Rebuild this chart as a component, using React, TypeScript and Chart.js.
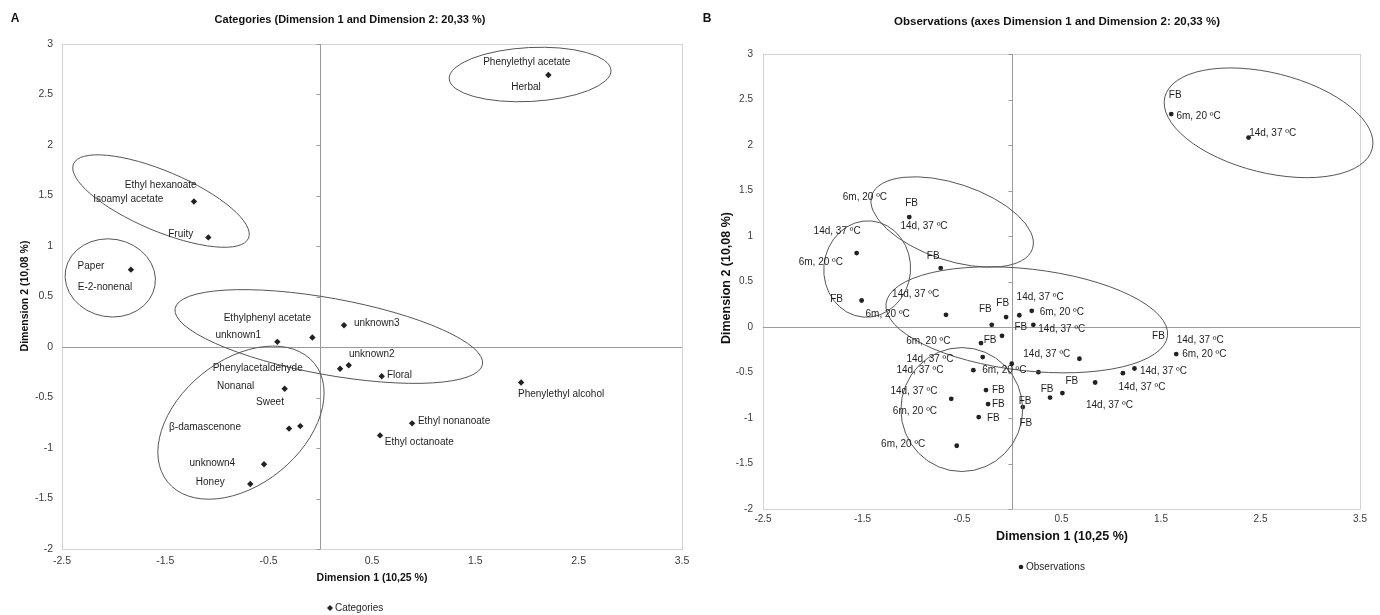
import React, { useEffect, useRef } from "react";
import { Chart, registerables } from "chart.js";

Chart.register(...registerables);

const FONT = '"Liberation Sans", Arial, sans-serif';

// ---------- Panel A : categories ----------
const xTickValues = [-2.5, -1.5, -0.5, 0.5, 1.5, 2.5, 3.5];
const yTickValues = [-2, -1.5, -1, -0.5, 0, 0.5, 1, 1.5, 2, 2.5, 3];

const categoryX = [2.207, -1.223, -1.084, -1.833, -0.416, -0.077, 0.229, 0.191, 0.275, 0.594, -0.345, -0.303, -0.194, -0.545, -0.678, 0.888, 0.578, 1.943];
const categoryY = [2.693, 1.441, 1.085, 0.766, 0.051, 0.094, 0.215, -0.215, -0.18, -0.289, -0.413, -0.808, -0.783, -1.161, -1.356, -0.756, -0.875, -0.351];

const categoryLabelText = [
  "Phenylethyl acetate", "Herbal", "Ethyl hexanoate", "Isoamyl acetate", "Fruity", "Paper", "E-2-nonenal",
  "Ethylphenyl acetate", "unknown1", "unknown3", "unknown2", "Floral", "Phenylacetaldehyde", "Nonanal", "Sweet",
  "β-damascenone", "unknown4", "Honey", "Ethyl nonanoate", "Ethyl octanoate", "Phenylethyl alcohol",
];
const categoryLabelX = [1.998, 1.991, -1.545, -1.859, -1.351, -2.22, -2.084, -0.513, -0.794, 0.546, 0.498, 0.765, -0.606, -0.819, -0.487, -1.116, -1.045, -1.065, 1.294, 0.958, 2.33];
const categoryLabelY = [2.824, 2.567, 1.599, 1.458, 1.112, 0.798, 0.595, 0.282, 0.114, 0.235, -0.074, -0.282, -0.206, -0.393, -0.545, -0.798, -1.148, -1.342, -0.733, -0.941, -0.469];

const categoryEllipseCX = [2.03, -1.542, -2.033, 0.082, -0.768];
const categoryEllipseCY = [2.698, 1.445, 0.684, 0.104, -0.749];
const categoryEllipseRX = [0.784, 0.92, 0.439, 1.512, 0.913];
const categoryEllipseRY = [0.267, 0.296, 0.385, 0.379, 0.616];
const categoryEllipseAngle = [-3, 23, 10, 10.3, -39];

// ---------- Panel B : observations ----------
const observationX = [-1.03, -1.559, -1.509, -0.714, -0.661, -0.201, -0.057, 0.076, 0.201, 0.217, -0.098, -0.309, -0.292, 0.0, -0.386, 0.268, 0.68, 0.838, 0.509, 0.385, -0.259, -0.238, -0.332, 0.111, -0.608, -0.553, 1.117, 1.233, 1.653, 1.603, 2.38];
const observationY = [1.208, 0.812, 0.291, 0.647, 0.134, 0.024, 0.109, 0.129, 0.178, 0.024, -0.097, -0.177, -0.331, -0.404, -0.474, -0.496, -0.349, -0.61, -0.726, -0.775, -0.693, -0.847, -0.99, -0.88, -0.789, -1.305, -0.507, -0.456, -0.298, 2.34, 2.082];

const L14 = "14d, 37 ºC";
const L6 = "6m, 20 ºC";
const LFB = "FB";
const observationLabelText = [
  L6, LFB, L14, L14, L6, LFB, LFB, L14, L6, LFB,
  LFB, L14, L6, LFB, L14, L6, LFB, L14, L14, L6,
  L14, L6, L6, LFB, LFB, LFB, LFB, LFB, L14, LFB,
  LFB, LFB, L14, L6, L14, L14, L14, LFB, L6, L14,
];
const observationLabelX = [
  -1.476, -1.006, -0.882, -1.755, -1.919, -0.789, -1.761, -0.966, -1.247, -0.266,
  -0.091, 0.285, 0.503, 0.091, 0.503, -0.839, -0.218, -0.822, -0.923, -0.074,
  -0.983, -0.973, -1.091, -0.135, -0.135, -0.185, 0.134, 0.141, 0.352, 0.355,
  0.604, 1.475, 1.894, 1.935, 1.525, 1.308, 0.982, 1.643, 1.877, 2.622,
];
const observationLabelY = [
  1.427, 1.362, 1.112, 1.049, 0.709, 0.775, 0.307, 0.362, 0.142, 0.2,
  0.263, 0.329, 0.159, 0.002, -0.023, -0.152, -0.148, -0.349, -0.47, -0.47,
  -0.709, -0.921, -1.284, -0.69, -0.847, -1.001, -0.819, -1.056, -0.3, -0.679,
  -0.591, -0.104, -0.151, -0.298, -0.489, -0.66, -0.863, 2.544, 2.313, 2.131,
];

const observationEllipseCX = [2.581, -0.599, -1.453, 0.151, -0.502];
const observationEllipseCY = [2.244, 1.154, 0.637, 0.079, -0.907];
const observationEllipseRX = [1.074, 0.851, 0.436, 1.424, 0.612];
const observationEllipseRY = [0.548, 0.422, 0.53, 0.559, 0.681];
const observationEllipseAngle = [14, 18.4, 5, 6.5, 0];

type PanelSpec = {
  width: number;
  height: number;
  area: { left: number; top: number; right: number; bottom: number };
  tickFont: number;
  xTickPad: number;
  yTickPad: number;
  pointX: number[];
  pointY: number[];
  pointStyle: string;
  pointRadius: number;
  seriesName: string;
  labelText: string[];
  labelX: number[];
  labelY: number[];
  ell: { cx: number[]; cy: number[]; rx: number[]; ry: number[]; ang: number[] };
  letter: string;
  letterPos: [number, number];
  title: string;
  titlePos: [number, number];
  titleFont: number;
  xTitle: string;
  xTitlePos: [number, number];
  yTitle: string;
  yTitlePos: [number, number];
  axisTitleFont: number;
  legendPos: [number, number];
};

function PanelChart({ spec }: { spec: PanelSpec }) {
  const ref = useRef<HTMLCanvasElement | null>(null);
  useEffect(() => {
    if (!ref.current) return;
    const s = spec;
    const xAxisHeight = 40;
    const padBottom = s.height - s.area.bottom - xAxisHeight;
    const plugin = {
      id: "panelDecor",
      beforeDatasetsDraw(chart: any) {
        const { ctx, chartArea: a, scales } = chart;
        const xs = scales.x;
        const ys = scales.y;
        ctx.save();
        ctx.strokeStyle = "#d3d3d3";
        ctx.lineWidth = 1;
        ctx.strokeRect(Math.round(a.left) + 0.5, Math.round(a.top) + 0.5, Math.round(a.right - a.left), Math.round(a.bottom - a.top));
        const x0 = Math.round(xs.getPixelForValue(0)) + 0.5;
        const y0 = Math.round(ys.getPixelForValue(0)) + 0.5;
        ctx.strokeStyle = "#9b9b9b";
        ctx.beginPath();
        ctx.moveTo(x0, a.top);
        ctx.lineTo(x0, a.bottom);
        ctx.moveTo(a.left, y0);
        ctx.lineTo(a.right, y0);
        for (const v of yTickValues) {
          const py = Math.round(ys.getPixelForValue(v)) + 0.5;
          ctx.moveTo(x0 - 4, py);
          ctx.lineTo(x0, py);
        }
        ctx.stroke();
        ctx.restore();
      },
      afterDatasetsDraw(chart: any) {
        const { ctx, scales } = chart;
        const xs = scales.x;
        const ys = scales.y;
        const ux = xs.getPixelForValue(1) - xs.getPixelForValue(0);
        const uy = ys.getPixelForValue(0) - ys.getPixelForValue(1);
        ctx.save();
        ctx.strokeStyle = "#555555";
        ctx.lineWidth = 1;
        for (let i = 0; i < s.ell.cx.length; i++) {
          ctx.beginPath();
          ctx.ellipse(
            xs.getPixelForValue(s.ell.cx[i]),
            ys.getPixelForValue(s.ell.cy[i]),
            s.ell.rx[i] * ux,
            s.ell.ry[i] * uy,
            (s.ell.ang[i] * Math.PI) / 180,
            0,
            Math.PI * 2
          );
          ctx.stroke();
        }
        ctx.fillStyle = "#1e1e1e";
        ctx.font = `10px ${FONT}`;
        ctx.textAlign = "center";
        ctx.textBaseline = "middle";
        for (let i = 0; i < s.labelText.length; i++) {
          ctx.fillText(s.labelText[i], xs.getPixelForValue(s.labelX[i]), ys.getPixelForValue(s.labelY[i]));
        }
        ctx.restore();
      },
      afterDraw(chart: any) {
        const { ctx } = chart;
        ctx.save();
        ctx.fillStyle = "#111111";
        ctx.textBaseline = "middle";
        ctx.textAlign = "center";
        ctx.font = `bold 12px ${FONT}`;
        ctx.fillText(s.letter, s.letterPos[0], s.letterPos[1]);
        ctx.font = `bold ${s.titleFont}px ${FONT}`;
        ctx.fillText(s.title, s.titlePos[0], s.titlePos[1]);
        ctx.font = `bold ${s.axisTitleFont}px ${FONT}`;
        ctx.fillText(s.xTitle, s.xTitlePos[0], s.xTitlePos[1]);
        ctx.save();
        ctx.translate(s.yTitlePos[0], s.yTitlePos[1]);
        ctx.rotate(-Math.PI / 2);
        ctx.fillText(s.yTitle, 0, 0);
        ctx.restore();
        // legend
        const [lx, ly] = s.legendPos;
        ctx.fillStyle = "#222222";
        ctx.beginPath();
        if (s.pointStyle === "rectRot") {
          ctx.moveTo(lx, ly - 3);
          ctx.lineTo(lx + 3, ly);
          ctx.lineTo(lx, ly + 3);
          ctx.lineTo(lx - 3, ly);
          ctx.closePath();
        } else {
          ctx.arc(lx, ly, 2.3, 0, Math.PI * 2);
        }
        ctx.fill();
        ctx.font = `10px ${FONT}`;
        ctx.textAlign = "left";
        ctx.fillStyle = "#1e1e1e";
        ctx.fillText(s.seriesName, lx + 5, ly);
        ctx.restore();
      },
    };

    const chart = new Chart(ref.current, {
      type: "scatter",
      data: {
        datasets: [
          {
            label: s.seriesName,
            data: s.pointX.map((v, i) => ({ x: v, y: s.pointY[i] })),
            pointStyle: s.pointStyle as any,
            pointRadius: s.pointRadius,
            pointBackgroundColor: "#222222",
            pointBorderColor: "#222222",
            pointBorderWidth: 0,
          },
        ],
      },
      options: {
        animation: false,
        responsive: false,
        devicePixelRatio: 1,
        layout: { padding: { left: 0, top: s.area.top, right: s.width - s.area.right, bottom: padBottom } },
        plugins: { legend: { display: false }, title: { display: false }, tooltip: { enabled: false } },
        scales: {
          x: {
            type: "linear",
            min: -2.5,
            max: 3.5,
            afterBuildTicks: (scale: any) => {
              scale.ticks = xTickValues.map((v) => ({ value: v }));
            },
            afterFit: (scale: any) => {
              scale.height = xAxisHeight;
            },
            grid: { display: false, drawTicks: false },
            border: { display: false },
            ticks: {
              padding: s.xTickPad,
              color: "#3a3a3a",
              font: { family: FONT, size: s.tickFont },
              maxRotation: 0,
              autoSkip: false,
              callback: (v: any) => String(v),
            },
          },
          y: {
            type: "linear",
            min: -2,
            max: 3,
            afterBuildTicks: (scale: any) => {
              scale.ticks = yTickValues.map((v) => ({ value: v }));
            },
            afterFit: (scale: any) => {
              scale.width = s.area.left;
            },
            grid: { display: false, drawTicks: false },
            border: { display: false },
            ticks: {
              padding: s.yTickPad,
              color: "#3a3a3a",
              font: { family: FONT, size: s.tickFont },
              autoSkip: false,
              callback: (v: any) => String(v),
            },
          },
        },
      },
      plugins: [plugin],
    });
    return () => chart.destroy();
  }, [spec]);
  return <canvas ref={ref} width={spec.width} height={spec.height} style={{ display: "block", width: spec.width, height: spec.height }} />;
}

const specA: PanelSpec = {
  width: 700,
  height: 615,
  area: { left: 62, top: 44, right: 682, bottom: 549 },
  tickFont: 10.5,
  xTickPad: 6,
  yTickPad: 9,
  pointX: categoryX,
  pointY: categoryY,
  pointStyle: "rectRot",
  pointRadius: 3.2,
  seriesName: "Categories",
  labelText: categoryLabelText,
  labelX: categoryLabelX,
  labelY: categoryLabelY,
  ell: { cx: categoryEllipseCX, cy: categoryEllipseCY, rx: categoryEllipseRX, ry: categoryEllipseRY, ang: categoryEllipseAngle },
  letter: "A",
  letterPos: [15, 19],
  title: "Categories (Dimension 1 and Dimension 2: 20,33 %)",
  titlePos: [350, 20],
  titleFont: 11,
  xTitle: "Dimension 1 (10,25 %)",
  xTitlePos: [372, 578],
  yTitle: "Dimension 2 (10,08 %)",
  yTitlePos: [25, 296],
  axisTitleFont: 10.5,
  legendPos: [330, 608],
};

const specB: PanelSpec = {
  width: 680,
  height: 615,
  area: { left: 63, top: 54, right: 660, bottom: 509 },
  tickFont: 10,
  xTickPad: 4,
  yTickPad: 10,
  pointX: observationX,
  pointY: observationY,
  pointStyle: "circle",
  pointRadius: 2.4,
  seriesName: "Observations",
  labelText: observationLabelText,
  labelX: observationLabelX,
  labelY: observationLabelY,
  ell: { cx: observationEllipseCX, cy: observationEllipseCY, rx: observationEllipseRX, ry: observationEllipseRY, ang: observationEllipseAngle },
  letter: "B",
  letterPos: [7, 19],
  title: "Observations (axes Dimension 1 and Dimension 2: 20,33 %)",
  titlePos: [357, 22],
  titleFont: 11.5,
  xTitle: "Dimension 1 (10,25 %)",
  xTitlePos: [362, 537],
  yTitle: "Dimension 2 (10,08 %)",
  yTitlePos: [27, 278],
  axisTitleFont: 12.5,
  legendPos: [321, 567],
};

export default function App() {
  return (
    <div style={{ position: "absolute", left: 0, top: 0, width: 1380, height: 615, background: "#ffffff" }}>
      <div style={{ position: "absolute", left: 0, top: 0 }}>
        <PanelChart spec={specA} />
      </div>
      <div style={{ position: "absolute", left: 700, top: 0 }}>
        <PanelChart spec={specB} />
      </div>
    </div>
  );
}
